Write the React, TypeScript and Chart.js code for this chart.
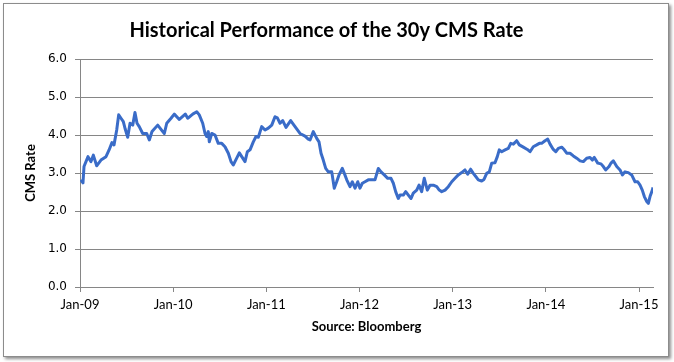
import React, { useEffect, useRef } from "react";
import { Chart, registerables } from "chart.js";

Chart.register(...registerables);

const chartTitle = "Historical Performance of the 30y CMS Rate";
const yAxisTitle = "CMS Rate";
const xAxisTitle = "Source: Bloomberg";
const xTickLabels = ["Jan-09", "Jan-10", "Jan-11", "Jan-12", "Jan-13", "Jan-14", "Jan-15"];
const firstYear = 2009;

// decimal-year dates
const dates = [
  2009.008, 2009.032, 2009.043, 2009.086, 2009.118, 2009.143, 2009.179, 2009.225, 2009.279, 2009.311,
  2009.343, 2009.365, 2009.394, 2009.415, 2009.44, 2009.465, 2009.486, 2009.512, 2009.537, 2009.566,
  2009.59, 2009.612, 2009.636, 2009.673, 2009.716, 2009.744, 2009.773, 2009.834, 2009.888, 2009.905,
  2009.931, 2009.977, 2010.012, 2010.066, 2010.13, 2010.156, 2010.21, 2010.253, 2010.28, 2010.317,
  2010.342, 2010.36, 2010.377, 2010.388, 2010.414, 2010.449, 2010.484, 2010.521, 2010.556, 2010.592,
  2010.621, 2010.645, 2010.682, 2010.71, 2010.736, 2010.771, 2010.796, 2010.825, 2010.86, 2010.889,
  2010.914, 2010.95, 2010.986, 2011.021, 2011.058, 2011.093, 2011.118, 2011.147, 2011.176, 2011.211,
  2011.261, 2011.308, 2011.361, 2011.415, 2011.45, 2011.469, 2011.504, 2011.541, 2011.565, 2011.587,
  2011.611, 2011.637, 2011.665, 2011.702, 2011.729, 2011.755, 2011.78, 2011.815, 2011.837, 2011.863,
  2011.898, 2011.923, 2011.952, 2011.981, 2012.005, 2012.03, 2012.059, 2012.094, 2012.131, 2012.166,
  2012.202, 2012.231, 2012.266, 2012.303, 2012.338, 2012.363, 2012.388, 2012.416, 2012.435, 2012.47,
  2012.496, 2012.524, 2012.553, 2012.577, 2012.614, 2012.639, 2012.667, 2012.695, 2012.728, 2012.757,
  2012.792, 2012.829, 2012.856, 2012.882, 2012.918, 2012.953, 2012.99, 2013.025, 2013.06, 2013.097,
  2013.132, 2013.161, 2013.193, 2013.221, 2013.25, 2013.275, 2013.311, 2013.336, 2013.365, 2013.393,
  2013.419, 2013.454, 2013.479, 2013.5, 2013.526, 2013.562, 2013.597, 2013.623, 2013.651, 2013.687,
  2013.715, 2013.758, 2013.801, 2013.83, 2013.865, 2013.902, 2013.93, 2013.955, 2013.991, 2014.02,
  2014.045, 2014.08, 2014.106, 2014.134, 2014.17, 2014.198, 2014.224, 2014.259, 2014.295, 2014.331,
  2014.367, 2014.402, 2014.438, 2014.474, 2014.499, 2014.52, 2014.557, 2014.592, 2014.617, 2014.642,
  2014.678, 2014.699, 2014.724, 2014.761, 2014.796, 2014.821, 2014.85, 2014.885, 2014.921, 2014.957,
  2014.986, 2015.011, 2015.035, 2015.057, 2015.083, 2015.1, 2015.118, 2015.143, 2015.15,
];

const cmsRate = [
  2.82, 2.74, 3.17, 3.43, 3.3, 3.47, 3.19, 3.34, 3.43, 3.6,
  3.8, 3.74, 4.13, 4.53, 4.44, 4.35, 4.15, 3.94, 4.31, 4.26,
  4.59, 4.31, 4.22, 4.04, 4.04, 3.87, 4.09, 4.26, 4.09, 4.04,
  4.31, 4.44, 4.55, 4.41, 4.55, 4.44, 4.55, 4.61, 4.53, 4.31,
  4.04, 3.96, 4.09, 3.82, 4.04, 4.0, 3.78, 3.78, 3.69, 3.52,
  3.3, 3.21, 3.39, 3.53, 3.43, 3.3, 3.56, 3.61, 3.82, 3.96,
  3.94, 4.22, 4.13, 4.18, 4.26, 4.48, 4.45, 4.31, 4.38, 4.2,
  4.38, 4.22, 4.04, 3.97, 3.89, 3.87, 4.09, 3.91, 3.82, 3.52,
  3.34, 3.12, 3.03, 3.03, 2.6, 2.77, 2.95, 3.12, 2.99, 2.82,
  2.64, 2.77, 2.6, 2.77, 2.6, 2.73, 2.77, 2.82, 2.82, 2.82,
  3.12, 3.03, 2.95, 2.86, 2.86, 2.73, 2.51, 2.33, 2.42, 2.42,
  2.51, 2.42, 2.33, 2.47, 2.55, 2.68, 2.51, 2.86, 2.55, 2.68,
  2.68, 2.64, 2.55, 2.51, 2.55, 2.64, 2.77, 2.86, 2.95, 3.01,
  3.08, 2.97, 3.1, 2.99, 2.9, 2.82, 2.79, 2.83, 2.99, 3.03,
  3.26, 3.27, 3.43, 3.61, 3.56, 3.61, 3.65, 3.78, 3.76, 3.85,
  3.74, 3.68, 3.62, 3.56, 3.69, 3.74, 3.78, 3.78, 3.85, 3.89,
  3.76, 3.62, 3.56, 3.65, 3.68, 3.61, 3.52, 3.52, 3.45, 3.39,
  3.32, 3.3, 3.39, 3.41, 3.34, 3.41, 3.26, 3.24, 3.17, 3.08,
  3.17, 3.26, 3.32, 3.17, 3.08, 2.95, 3.03, 3.01, 2.95, 2.77,
  2.77, 2.68, 2.55, 2.38, 2.25, 2.2, 2.38, 2.55, 2.62,
];

const yTicks = [0, 1, 2, 3, 4, 5, 6];

export default function App() {
  const canvasRef = useRef<HTMLCanvasElement | null>(null);

  useEffect(() => {
    const canvas = canvasRef.current;
    if (!canvas) return;
    const points = dates.map((d, i) => ({ x: d, y: cmsRate[i] }));
    const grey = "#868686";
    const chart = new Chart(canvas, {
      type: "line",
      data: {
        datasets: [
          {
            data: points,
            borderColor: "#3a6cc8",
            borderWidth: 3,
            pointRadius: 0,
            tension: 0,
            fill: false,
            borderJoinStyle: "round",
          },
        ],
      },
      options: {
        animation: false,
        responsive: false,
        maintainAspectRatio: false,
        devicePixelRatio: 1,
        layout: { padding: { left: 0, right: 21, top: 0, bottom: 0 } },
        plugins: {
          legend: { display: false },
          tooltip: { enabled: false },
          title: {
            display: true,
            text: chartTitle,
            color: "#000",
            font: { family: "Lato", size: 20, weight: "bold" },
            padding: { top: 19, bottom: 16 },
          },
        },
        scales: {
          x: {
            type: "linear",
            min: firstYear,
            max: 2015.15,
            afterFit: (s: any) => {
              s.height = 75;
            },
            ticks: {
              stepSize: 1,
              includeBounds: false,
              autoSkip: false,
              maxRotation: 0,
              padding: 5,
              color: "#000",
              font: { family: "Lato", size: 13 },
              callback: (v: any) => {
                const idx = Math.round(Number(v) - firstYear);
                return xTickLabels[idx] ?? "";
              },
            },
            grid: {
              display: true,
              drawOnChartArea: false,
              drawTicks: true,
              tickLength: 5,
              color: grey,
            },
            border: { display: true, color: grey },
            title: {
              display: true,
              text: xAxisTitle,
              color: "#000",
              font: { family: "Lato", size: 13, weight: "bold" },
              padding: { top: 0, bottom: 27 },
            },
          },
          y: {
            type: "linear",
            min: 0,
            max: 6,
            afterFit: (s: any) => {
              s.width = 80;
            },
            afterBuildTicks: (s: any) => {
              s.ticks = yTicks.map((v) => ({ value: v }));
            },
            ticks: {
              padding: 8,
              color: "#000",
              font: { family: "DejaVu Sans", size: 12 },
              callback: (v: any) => Number(v).toFixed(1),
            },
            grid: {
              color: grey,
              lineWidth: 1,
              drawTicks: true,
              tickLength: 5,
            },
            border: { display: true, color: grey },
            title: {
              display: true,
              text: yAxisTitle,
              color: "#000",
              font: { family: "Lato", size: 13, weight: "bold" },
              padding: { top: 23, bottom: 0 },
            },
          },
        },
      },
    });
    return () => chart.destroy();
  }, []);

  return (
    <div style={{ position: "fixed", left: 0, top: 0, width: 674, height: 362, background: "#fff" }}>
      <div
        style={{
          position: "absolute",
          left: 3,
          top: 3,
          width: 664,
          height: 352,
          border: "1px solid #8c8c8c",
          boxShadow: "2px 2px 3px rgba(0,0,0,0.45)",
          background: "#fff",
        }}
      />
      <canvas
        ref={canvasRef}
        width={674}
        height={362}
        style={{ position: "absolute", left: 0, top: 0, width: 674, height: 362 }}
      />
    </div>
  );
}
